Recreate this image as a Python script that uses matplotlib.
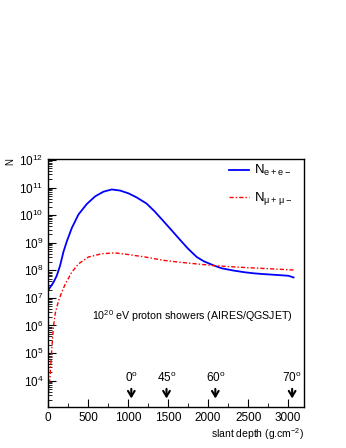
import matplotlib
matplotlib.use("Agg")
import matplotlib.pyplot as plt
import numpy as np
from matplotlib.ticker import LogLocator, MultipleLocator, NullFormatter

plt.rcParams['font.family'] = ['Liberation Sans', 'DejaVu Sans']
plt.rcParams['mathtext.default'] = 'regular'
plt.rcParams['font.size'] = 8

# electrons / positrons (depth in g/cm2, log10 N)
depth_e = [0, 30, 67, 108, 150, 192, 233, 296, 379, 483, 588, 692, 796, 900,
           1004, 1108, 1230, 1330, 1442, 1550, 1650, 1750, 1858, 1950, 2067,
           2170, 2317, 2450, 2567, 2700, 2858, 3004, 3067]
logn_e = [7.27, 7.4, 7.56, 7.8, 8.17, 8.67, 9.04, 9.53, 10.02, 10.4, 10.68,
          10.85, 10.93, 10.89, 10.79, 10.64, 10.42, 10.14, 9.78, 9.43, 9.1,
          8.78, 8.48, 8.32, 8.18, 8.07, 7.99, 7.93, 7.89, 7.86, 7.83, 7.8,
          7.74]

# muons
depth_mu = [4, 25, 46, 67, 90, 129, 170, 213, 296, 379, 504, 671, 838, 1004,
            1213, 1442, 1650, 1858, 2067, 2275, 2525, 2800, 3067]
logn_mu = [3.54, 4.16, 5.15, 5.95, 6.45, 6.88, 7.2, 7.49, 7.93, 8.23, 8.48,
           8.6, 8.63, 8.57, 8.48, 8.36, 8.29, 8.23, 8.17, 8.13, 8.09, 8.05,
           8.01]

# zenith angle markers
arrow_depth = [1040, 1480, 2090, 3050]
arrow_label = ['0$^o$', '45$^o$', '60$^o$', '70$^o$']

fig = plt.figure(figsize=(3.46, 4.48), dpi=100)
ax = fig.add_axes([0.139, 0.0915, 0.74, 0.554])

ax.plot(depth_e, 10**np.array(logn_e), color='#0000ff', lw=1.3,
        label='N$_{e+e-}$')
ax.plot(depth_mu, 10**np.array(logn_mu), color='#ff0000', lw=1.0,
        ls=(0, (3, 1.5, 1, 1.5)), label=r'N$_{\mu+\mu-}$')

ax.set_yscale('log')
ax.set_xlim(0, 3200)
ax.set_ylim(1.1e3, 1.1e12)

ax.xaxis.set_major_locator(MultipleLocator(500))
ax.xaxis.set_minor_locator(MultipleLocator(250))
ax.yaxis.set_major_locator(LogLocator(base=10, numticks=20))
ax.yaxis.set_minor_locator(LogLocator(base=10, subs=np.arange(2, 10), numticks=20))
ax.yaxis.set_minor_formatter(NullFormatter())
ax.tick_params(which='both', direction='in', top=False, right=False,
               labelsize=8.5)
ax.tick_params(which='major', length=6)
ax.tick_params(which='minor', length=3)
for s in ax.spines.values():
    s.set_linewidth(1.0)

for d, lab in zip(arrow_depth, arrow_label):
    ax.annotate('', xy=(d, 10**3.25), xytext=(d, 10**3.8),
                arrowprops=dict(arrowstyle='->,head_length=0.5,head_width=0.3',
                                color='black', lw=1.5))
    ax.text(d, 10**3.85, lab, ha='center', va='bottom', fontsize=8.5)

ax.text(0.5625, 0.367, '10$^{20}$ eV proton showers (AIRES/QGSJET)',
        transform=ax.transAxes, ha='center', va='center', fontsize=7.7)

ax.legend(loc='upper right', bbox_to_anchor=(1.0, 1.03), frameon=False,
          handlelength=1.5, handletextpad=0.4, labelspacing=0.9, fontsize=9.5)

fig.text(0.03, 0.64, 'N', rotation=90, fontsize=7, ha='center', va='center')
fig.text(0.88, 0.03, 'slant depth (g.cm$^{-2}$)', ha='right', va='center',
         fontsize=7.5)

fig.savefig('out.png', dpi=100)
